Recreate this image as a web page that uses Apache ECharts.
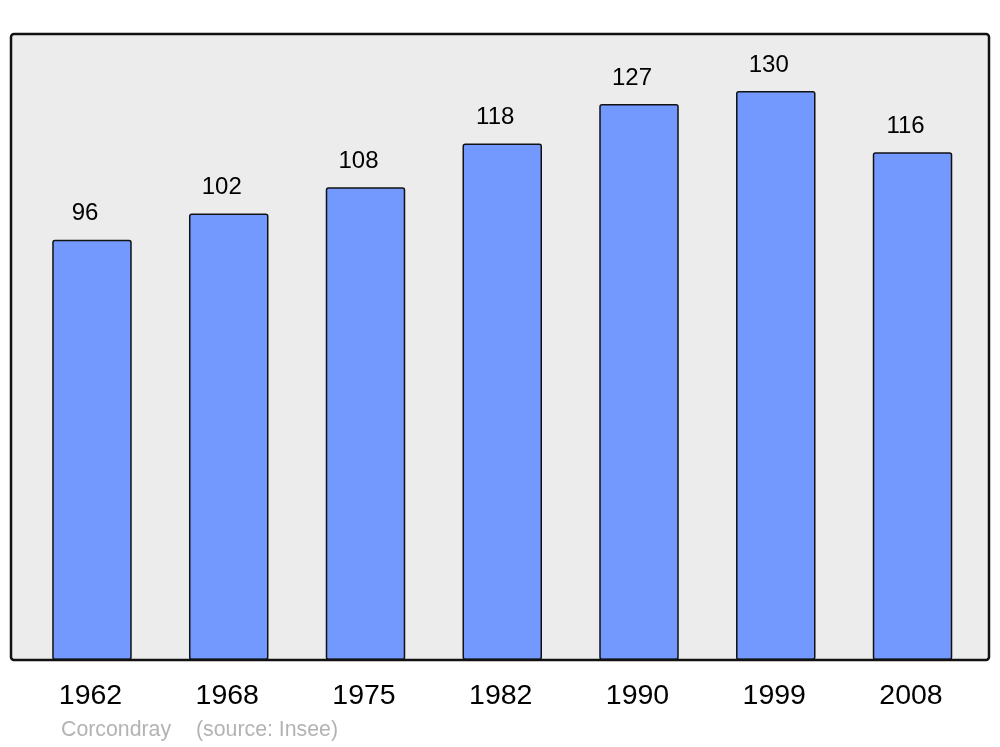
<!DOCTYPE html>
<html>
<head>
<meta charset="utf-8">
<script src="https://cdn.jsdelivr.net/npm/echarts@6/dist/echarts.min.js"></script>
<style>
html,body{margin:0;padding:0;background:#fff;}
#chart{width:1000px;height:747px;}
</style>
</head>
<body>
<div id="chart"></div>
<script>
const years = ['1962','1968','1975','1982','1990','1999','2008'];
const population = [96, 102, 108, 118, 127, 130, 116];
const placeName = 'Corcondray';
const sourceName = '(source: Insee)';

const chart = echarts.init(document.getElementById('chart'), null, {renderer:'canvas'});
const FONT = '"Liberation Sans", Arial, sans-serif';
chart.setOption({
  animation: false,
  backgroundColor: '#ffffff',
  grid: { left: 23.6, width: 957.3, top: 34, height: 626, containLabel: false },
  xAxis: {
    type: 'category',
    data: years,
    axisLine: { show: false },
    axisTick: { show: false },
    axisLabel: { color: '#000', fontSize: 28.5, fontFamily: FONT, margin: 22, padding: [0, 3, 0, 0] }
  },
  yAxis: {
    type: 'value',
    min: 0, max: 143,
    show: false,
    splitLine: { show: false }
  },
  graphic: [
    { type: 'rect', z: -10, shape: { x: 11, y: 34, width: 978, height: 626, r: 3 },
      style: { fill: '#ececec', stroke: null } },
    { type: 'rect', z: 100, silent: true, shape: { x: 11, y: 34, width: 978, height: 626, r: 3 },
      style: { fill: null, stroke: '#111', lineWidth: 2.5 } },
    { type: 'text', left: 61, top: 720, z: 100,
      style: { text: placeName, fill: '#b3b3b3', font: '21.3px ' + FONT } },
    { type: 'text', left: 196, top: 720, z: 100,
      style: { text: sourceName, fill: '#b3b3b3', font: '21.3px ' + FONT } }
  ],
  series: [{
    type: 'bar',
    data: population,
    barWidth: 79.5,
    itemStyle: { color: '#7399ff', borderColor: '#111', borderWidth: 1.5, borderRadius: 2 },
    label: {
      show: true, position: 'top', distance: 14, offset: [-7, 0],
      color: '#000', fontSize: 24, fontFamily: FONT
    }
  }]
});
</script>
</body>
</html>
